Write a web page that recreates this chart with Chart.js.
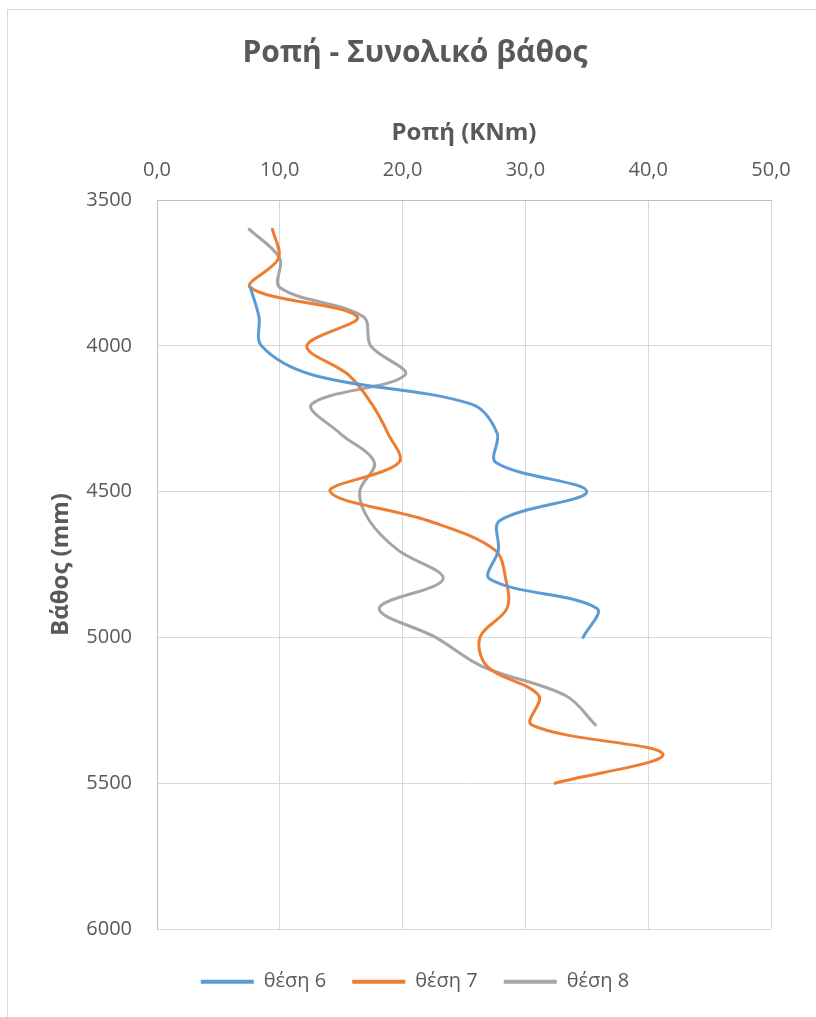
<!DOCTYPE html>
<html>
<head>
<meta charset="utf-8">
<script src="https://cdn.jsdelivr.net/npm/chart.js@4/dist/chart.umd.min.js"></script>
<style>
    html, body { margin: 0; padding: 0; background: #fff; }
    #wrap { width: 816px; height: 1017px; }
</style>
</head>
<body>
<div id="wrap"><canvas id="chart" width="816" height="1017"></canvas></div>
<script>
// ==================== DATA ====================
const depth6 = [3800, 3900, 4000, 4100, 4200, 4300, 4400, 4500, 4600, 4700, 4800, 4900, 5000];
const moment6 = [7.6, 8.3, 8.5, 12.7, 25.6, 27.7, 27.6, 35.0, 27.9, 27.8, 27.1, 35.8, 34.7];

const depth7 = [3600, 3700, 3800, 3900, 4000, 4100, 4200, 4300, 4400, 4500, 4600, 4700, 4800, 4900, 5000, 5100, 5200, 5300, 5400, 5500];
const moment7 = [9.4, 9.9, 7.6, 16.3, 12.2, 15.6, 17.5, 18.8, 19.7, 14.1, 22.1, 27.5, 28.4, 28.5, 26.3, 26.9, 31.1, 30.5, 41.2, 32.4];

const depth8 = [3600, 3700, 3800, 3900, 4000, 4100, 4200, 4300, 4400, 4500, 4600, 4700, 4800, 4900, 5000, 5100, 5200, 5300];
const moment8 = [7.5, 10.0, 10.0, 16.8, 17.4, 20.2, 12.6, 14.9, 17.7, 16.5, 17.3, 19.6, 23.3, 18.1, 22.7, 26.5, 33.3, 35.7];

const seriesNames = ['θέση 6', 'θέση 7', 'θέση 8'];
const xTicks = [0, 10, 20, 30, 40, 50];
const yTicks = [3500, 4000, 4500, 5000, 5500, 6000];

// ==================== STYLE ====================
const TEXT = '#595959';
const COLORS = ['#5B9BD5', '#ED7D31', '#A5A5A5'];

Chart.defaults.font.family = "'Open Sans', sans-serif";
Chart.defaults.color = TEXT;

function toPoints(xs, ys) {
    return ys.map((y, i) => ({ x: xs[i], y: y }));
}

function makeSet(label, xs, ys, color) {
    return {
        label: label,
        data: toPoints(xs, ys),
        borderColor: color,
        backgroundColor: color,
        borderWidth: 3,
        borderCapStyle: 'round',
        borderJoinStyle: 'round',
        pointRadius: 0,
        showLine: true,
        tension: 0.35
    };
}

// outer chart frame (Excel chart border)
const framePlugin = {
    id: 'frame',
    beforeDraw(chart) {
        const ctx = chart.ctx;
        ctx.save();
        ctx.strokeStyle = '#d9d9d9';
        ctx.lineWidth = 1;
        ctx.strokeRect(7.5, 9.5, 900, 1100);
        ctx.restore();
    }
};

// ==================== CHART ====================
new Chart(document.getElementById('chart'), {
    type: 'scatter',
    data: {
        datasets: [
            makeSet(seriesNames[0], moment6, depth6, COLORS[0]),
            makeSet(seriesNames[1], moment7, depth7, COLORS[1]),
            makeSet(seriesNames[2], moment8, depth8, COLORS[2])
        ]
    },
    options: {
        responsive: false,
        animation: false,
        layout: {
            padding: { top: 9, left: 7, right: -7, bottom: 15.3 }
        },
        plugins: {
            tooltip: { enabled: false },
            title: {
                display: true,
                text: 'Ροπή - Συνολικό βάθος',
                color: TEXT,
                font: { size: 30, weight: 'bold' },
                padding: { top: 26, bottom: 0 }
            },
            legend: {
                position: 'bottom',
                title: {
                    display: true,
                    text: ' ',
                    font: { size: 10, lineHeight: 1.67 },
                    padding: 0
                },
                labels: {
                    boxWidth: 53,
                    boxHeight: 4,
                    padding: 26,
                    color: TEXT,
                    font: { size: 20 },
                    generateLabels: chart =>
                        Chart.defaults.plugins.legend.labels.generateLabels(chart).map(l => ({
                            ...l, lineWidth: 0, fillStyle: l.strokeStyle
                        }))
                }
            }
        },
        scales: {
            x: {
                type: 'linear',
                position: 'top',
                min: 0,
                max: 50,
                afterBuildTicks: scale => { scale.ticks = xTicks.map(v => ({ value: v })); },
                afterFit: scale => { scale.height = 129; },
                title: {
                    display: true,
                    text: 'Ροπή (KNm)',
                    color: TEXT,
                    font: { size: 24, weight: 'bold' },
                    padding: { top: 47.6, bottom: 0 }
                },
                ticks: {
                    padding: 17.5,
                    color: TEXT,
                    font: { size: 20 },
                    callback: v => v.toFixed(1).replace('.', ',')
                },
                grid: { color: '#d9d9d9', drawTicks: false },
                border: { color: '#bfbfbf' }
            },
            y: {
                type: 'linear',
                position: 'left',
                reverse: true,
                min: 3500,
                max: 6000,
                afterBuildTicks: scale => { scale.ticks = yTicks.map(v => ({ value: v })); },
                afterFit: scale => { scale.width = 150; },
                title: {
                    display: true,
                    text: 'Βάθος (mm)',
                    color: TEXT,
                    font: { size: 24, weight: 'bold' },
                    padding: { top: 39.6, bottom: 0 }
                },
                ticks: {
                    padding: 25,
                    color: TEXT,
                    font: { size: 20 },
                    callback: v => String(v)
                },
                grid: { color: '#d9d9d9', drawTicks: false },
                border: { color: '#bfbfbf' }
            },
            // empty spacer on the right, keeps the plot narrower than the frame
            y2: {
                type: 'linear',
                position: 'right',
                display: true,
                afterFit: scale => { scale.width = 52; },
                ticks: { display: false },
                grid: { display: false, drawTicks: false },
                border: { display: false }
            }
        }
    },
    plugins: [framePlugin]
});
</script>
</body>
</html>
